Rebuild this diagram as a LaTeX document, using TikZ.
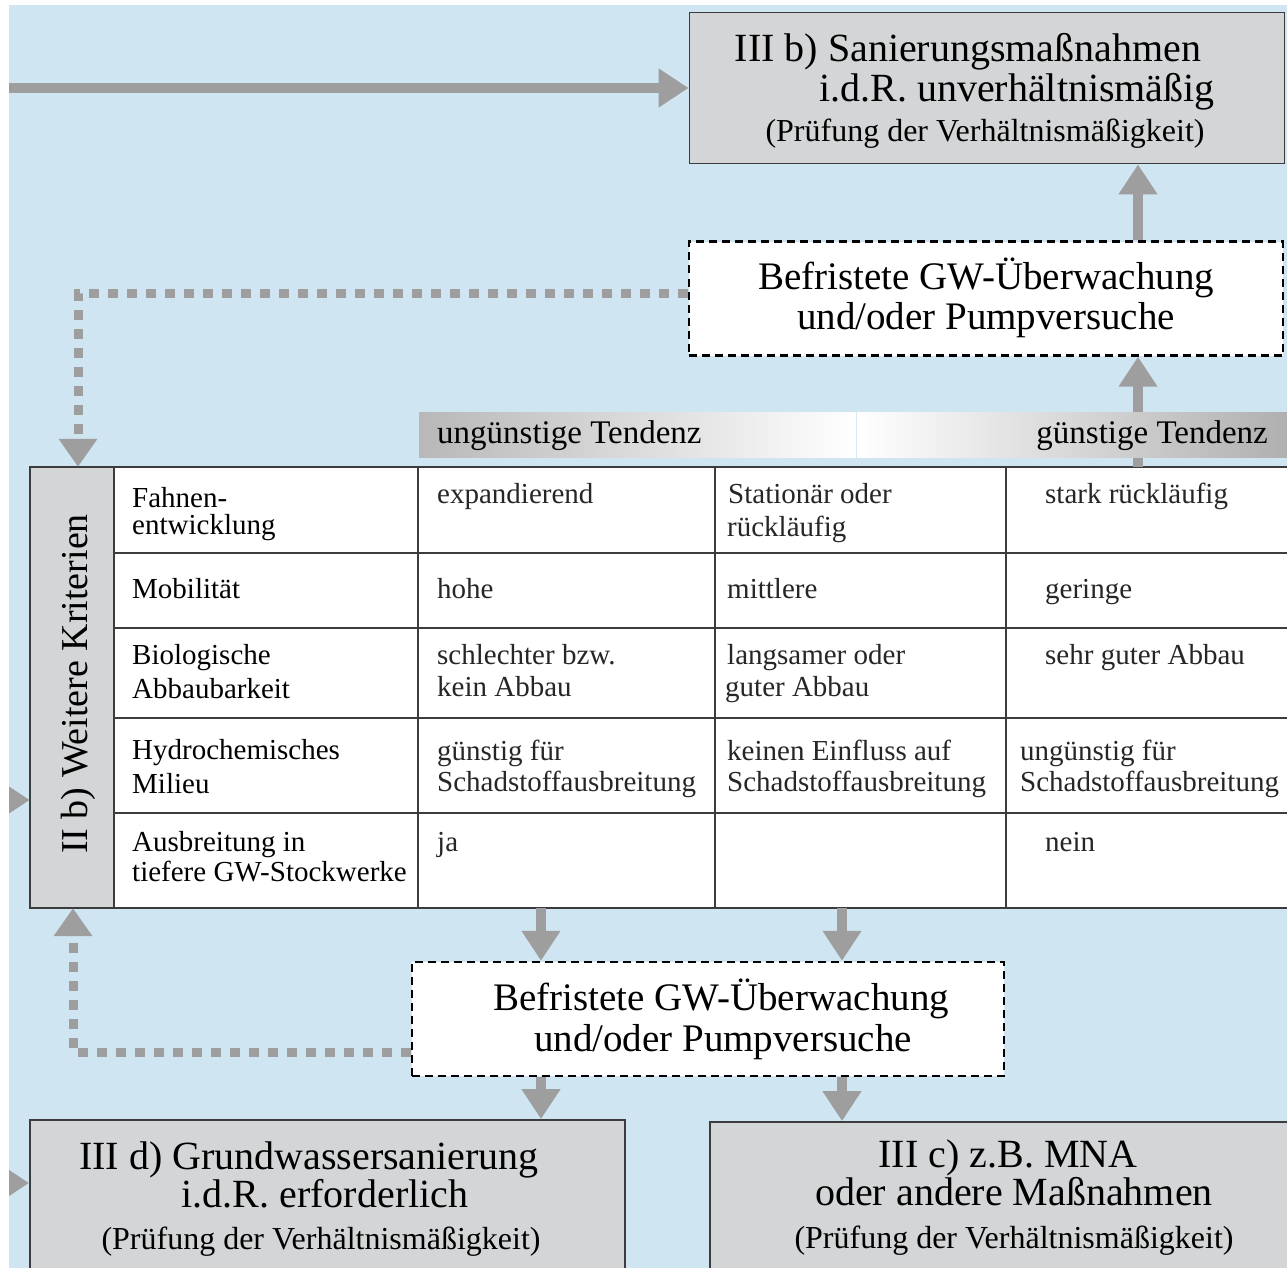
\documentclass[tikz,border=0pt]{standalone}
\usepackage{fontspec}
\setmainfont{Liberation Serif}
\usetikzlibrary{arrows.meta}
\definecolor{bgblue}{RGB}{207,230,242}
\definecolor{boxgray}{RGB}{212,213,214}
\definecolor{arrgray}{RGB}{158,158,158}
\definecolor{linegray}{RGB}{60,60,60}
\newcommand\szTitle{\fontsize{40}{44}\selectfont}
\newcommand\szSub{\fontsize{32}{36}\selectfont}
\newcommand\szDash{\fontsize{39}{43}\selectfont}
\newcommand\szCell{\fontsize{29}{32}\selectfont}
\newcommand\szBar{\fontsize{33}{36}\selectfont}
\newcommand\szSide{\fontsize{38}{42}\selectfont}
\begin{document}
\begin{tikzpicture}[x=1pt,y=-1pt,
  graybox/.style={draw=linegray, line width=1.8pt, fill=boxgray, inner sep=0pt, rectangle},
  dashbox/.style={draw=black, line width=2.4pt, dash pattern=on 8pt off 5pt, fill=white, inner sep=0pt, rectangle},
  arr/.style={draw=arrgray, line width=10pt, -{Triangle[length=30pt,width=37pt]}},
  dotarr/.style={draw=arrgray, line width=9pt, dash pattern=on 10pt off 9pt, -{Triangle[length=28pt,width=37pt]}},
  txt/.style={inner sep=0pt, anchor=base},
  cell/.style={inner sep=0pt, anchor=base west, font=\szCell, text=black!85, text height=20pt, text depth=5pt},
  hcell/.style={inner sep=0pt, anchor=base west, font=\szCell, text=black, text height=20pt, text depth=5pt},
  tline/.style={draw=linegray, line width=1.8pt}
]
\useasboundingbox (0,0) rectangle (1287,1268);
\clip (0,0) rectangle (1287,1268);
\fill[bgblue] (9,5) rectangle (1300,1280);

% boxes
\node[graybox, minimum width=595pt, minimum height=151pt] (b3) at (987,88) {};
\node[dashbox, minimum width=594pt, minimum height=114pt] (d1) at (986,298.5) {};
\node[inner sep=0pt, fill=white, minimum width=1270pt, minimum height=441pt] (tbl) at (665,687.5) {};
\node[dashbox, minimum width=592pt, minimum height=114pt] (d2) at (708,1019) {};
\node[graybox, minimum width=595pt, minimum height=180pt] (b4) at (327.5,1210) {};
\node[graybox, minimum width=590pt, minimum height=178pt] (b5) at (1005,1211) {};

% table
\fill[boxgray] (tbl.north west) rectangle (114,908);
\draw[tline] (114,553) -- (1300,553);
\draw[tline] (114,628) -- (1300,628);
\draw[tline] (114,718) -- (1300,718);
\draw[tline] (114,813) -- (1300,813);
\draw[tline] (114,467) -- (114,908);
\draw[tline] (418,467) -- (418,908);
\draw[tline] (715,467) -- (715,908);
\draw[tline] (1006,467) -- (1006,908);
\draw[tline] (tbl.north west) rectangle (tbl.south east);

% arrows
\coordinate (ax1) at (1138,0);
\coordinate (ax2) at (541,0);
\coordinate (ax3) at (842,0);
\draw[arr] (ax1 |- d1.north) -- (ax1 |- b3.south);
\draw[arr] (ax1 |- tbl.north) -- (ax1 |- d1.south);
\draw[arr] (ax2 |- tbl.south) -- (ax2 |- d2.north);
\draw[arr] (ax3 |- tbl.south) -- (ax3 |- d2.north);
\draw[arr] (ax2 |- d2.south) -- (ax2 |- b4.north);
\draw[arr] (ax3 |- d2.south) -- (ax3 |- b5.north);
\coordinate (in1) at (0,88);
\draw[arr] (in1) -- (b3.west);
\coordinate (in2) at (-14,800);
\draw[arr] (in2) -- (in2 -| tbl.west);
\coordinate (in3) at (-14,1183);
\draw[arr] (in3) -- (in3 -| b4.west);
\coordinate (lx1) at (78,293);
\draw[dotarr] (d1.west |- lx1) -- (lx1) -- (lx1 |- tbl.north);
\coordinate (lx2) at (73,1052);
\draw[dotarr] (d2.west |- lx2) -- (lx2) -- (lx2 |- tbl.south);

% white margins
\fill[white] (0,0) rectangle (9,1268);
\fill[white] (0,0) rectangle (1287,5);

% gradient bar
\shade[left color=black!28, right color=white] (419,412) rectangle (856,457);
\shade[left color=white, right color=black!32] (857,412) rectangle (1300,457);
\node[inner sep=0pt, anchor=base west, font=\szBar] (barl) at (437,443) {ungünstige Tendenz};
\node[inner sep=0pt, anchor=base east, font=\szBar] (barr) at (1268,443) {günstige Tendenz};

% box texts
\node[txt, font=\szTitle] (b3a) at (968,62) {III b) Sanierungsmaßnahmen};
\node[txt, font=\szTitle] (b3b) at (1017,102) {i.d.R. unverhältnismäßig};
\node[txt, font=\szSub] (b3c) at (985,142) {(Prüfung der Verhältnismäßigkeit)};
\node[txt, font=\szDash] (d1a) at (986,289) {Befristete GW-Überwachung};
\node[txt, font=\szDash] (d1b) at (986,329) {und/oder Pumpversuche};
\node[txt, font=\szDash] (d2a) at (721,1010) {Befristete GW-Überwachung};
\node[txt, font=\szDash] (d2b) at (723,1051) {und/oder Pumpversuche};
\node[txt, font=\szTitle] (b4a) at (309,1169) {III d) Grundwassersanierung};
\node[txt, font=\szTitle] (b4b) at (325,1207) {i.d.R. erforderlich};
\node[txt, font=\szSub] (b4c) at (321,1249) {(Prüfung der Verhältnismäßigkeit)};
\node[txt, font=\szTitle] (b5a) at (1008,1167) {III c) z.B. MNA};
\node[txt, font=\szTitle] (b5b) at (1014,1205) {oder andere Maßnahmen};
\node[txt, font=\szSub] (b5c) at (1014,1248) {(Prüfung der Verhältnismäßigkeit)};

% side label
\node[txt, font=\szSide, rotate=90] (side) at (87,684) {II b) Weitere Kriterien};

% table cells
\node[hcell] (h1a) at (132,507) {Fahnen-};
\node[hcell] (h1b) at (132,534) {entwicklung};
\node[hcell] (h2) at (132,598) {Mobilität};
\node[hcell] (h3a) at (132,664) {Biologische};
\node[hcell] (h3b) at (132,698) {Abbaubarkeit};
\node[hcell] (h4a) at (132,759) {Hydrochemisches};
\node[hcell] (h4b) at (132,793) {Milieu};
\node[hcell] (h5a) at (132,851) {Ausbreitung in};
\node[hcell] (h5b) at (132,881) {tiefere GW-Stockwerke};

\node[cell] (c11) at (437,503) {expandierend};
\node[cell] (c21) at (437,598) {hohe};
\node[cell] (c31a) at (437,664) {schlechter bzw.};
\node[cell] (c31b) at (437,696) {kein Abbau};
\node[cell] (c41a) at (437,760) {günstig für};
\node[cell] (c41b) at (437,791) {Schadstoffausbreitung};
\node[cell] (c51) at (437,851) {ja};

\node[cell] (c12a) at (728,503) {Stationär oder};
\node[cell] (c12b) at (727,536) {rückläufig};
\node[cell] (c22) at (727,598) {mittlere};
\node[cell] (c32a) at (727,664) {langsamer oder};
\node[cell] (c32b) at (725,696) {guter Abbau};
\node[cell] (c42a) at (727,760) {keinen Einfluss auf};
\node[cell] (c42b) at (727,791) {Schadstoffausbreitung};

\node[cell] (c13) at (1045,503) {stark rückläufig};
\node[cell] (c23) at (1045,598) {geringe};
\node[cell] (c33) at (1045,664) {sehr guter Abbau};
\node[cell] (c43a) at (1020,760) {ungünstig für};
\node[cell] (c43b) at (1020,791) {Schadstoffausbreitung};
\node[cell] (c53) at (1045,851) {nein};
\end{tikzpicture}
\end{document}
